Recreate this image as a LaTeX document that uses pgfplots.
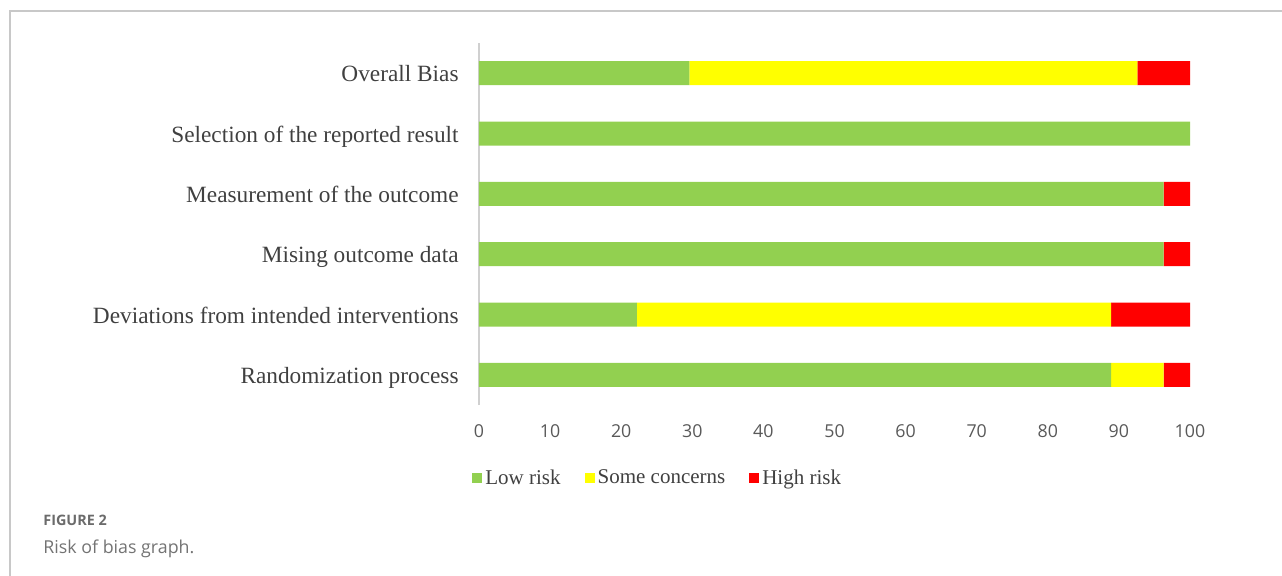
\documentclass[border=0pt]{standalone}
\usepackage{pgfplots}
\pgfplotsset{compat=1.18}
\usepackage{fontspec}
\setmainfont{Liberation Serif}
\newfontfamily\sansfont{Open Sans}

\definecolor{lowrisk}{HTML}{92D050}
\definecolor{somecon}{HTML}{FFFF00}
\definecolor{highrisk}{HTML}{FF0000}
\definecolor{labelgray}{HTML}{404040}
\definecolor{tickgray}{HTML}{595959}
\definecolor{framegray}{HTML}{C8C8C8}
\definecolor{axisgray}{HTML}{D0D0D0}

\begin{document}
\begin{tikzpicture}
% page extent
\path[use as bounding box] (0,0) rectangle (641pt,287.5pt);
% open figure frame
\draw[framegray, line width=0.75pt] (5pt,-1pt) -- (5pt,282pt) -- (642pt,282pt);

\begin{axis}[
  at={(239.5pt,85pt)}, anchor=south west,
  scale only axis,
  width=355.5pt, height=181pt,
  xbar stacked,
  bar width=12pt,
  xmin=0, xmax=100,
  ymin=0.5, ymax=6.5,
  axis lines*=left,
  x axis line style={draw=none},
  y axis line style={draw=axisgray, line width=0.8pt},
  major tick length=0pt,
  xtick={0,10,...,100},
  ytick={1,2,3,4,5,6},
  yticklabels={Randomization process,
               Deviations from intended interventions,
               Mising outcome data,
               Measurement of the outcome,
               Selection of the reported result,
               Overall Bias},
  /pgf/number format/assume math mode=true,
  xticklabel style={anchor=center, yshift=-13pt, inner sep=0pt,
    font=\sansfont\fontsize{8.9pt}{10pt}\selectfont, text=tickgray},
  yticklabel style={anchor=base east, xshift=-10pt, yshift=-4.35pt, inner sep=0pt,
    font=\fontsize{11.65pt}{14pt}\selectfont, text=labelgray},
  legend style={at={(axis description cs:-0.0099,-0.203)}, anchor=west,
    draw=none, fill=none, inner sep=0pt,
    font=\fontsize{10.5pt}{12pt}\selectfont, text=labelgray,
    /tikz/every even column/.append style={column sep=11pt},
    nodes={inner sep=1pt}},
  legend columns=3,
  legend image code/.code={\fill[#1] (0pt,-2.5pt) rectangle (5pt,2.5pt);
    \path (5.5pt,0pt);},
]
% Low risk
\addplot[fill=lowrisk, draw=none] coordinates
  {(88.9,1) (22.2,2) (96.3,3) (96.3,4) (100,5) (29.6,6)};
% Some concerns
\addplot[fill=somecon, draw=none] coordinates
  {(7.4,1) (66.7,2) (0,3) (0,4) (0,5) (63.0,6)};
% High risk
\addplot[fill=highrisk, draw=none] coordinates
  {(3.7,1) (11.1,2) (3.7,3) (3.7,4) (0,5) (7.4,6)};
\legend{Low risk, Some concerns, High risk}
\end{axis}

% caption
\node[anchor=base west, inner sep=0pt, text=black!58] at (21.5pt,25pt)
  {\sansfont\bfseries\fontsize{7.2pt}{9pt}\selectfont FIGURE 2};
\node[anchor=base west, inner sep=0pt, text=black!55] at (21.5pt,11pt)
  {\sansfont\fontsize{8.9pt}{10pt}\selectfont Risk of bias graph.};
\end{tikzpicture}
\end{document}
